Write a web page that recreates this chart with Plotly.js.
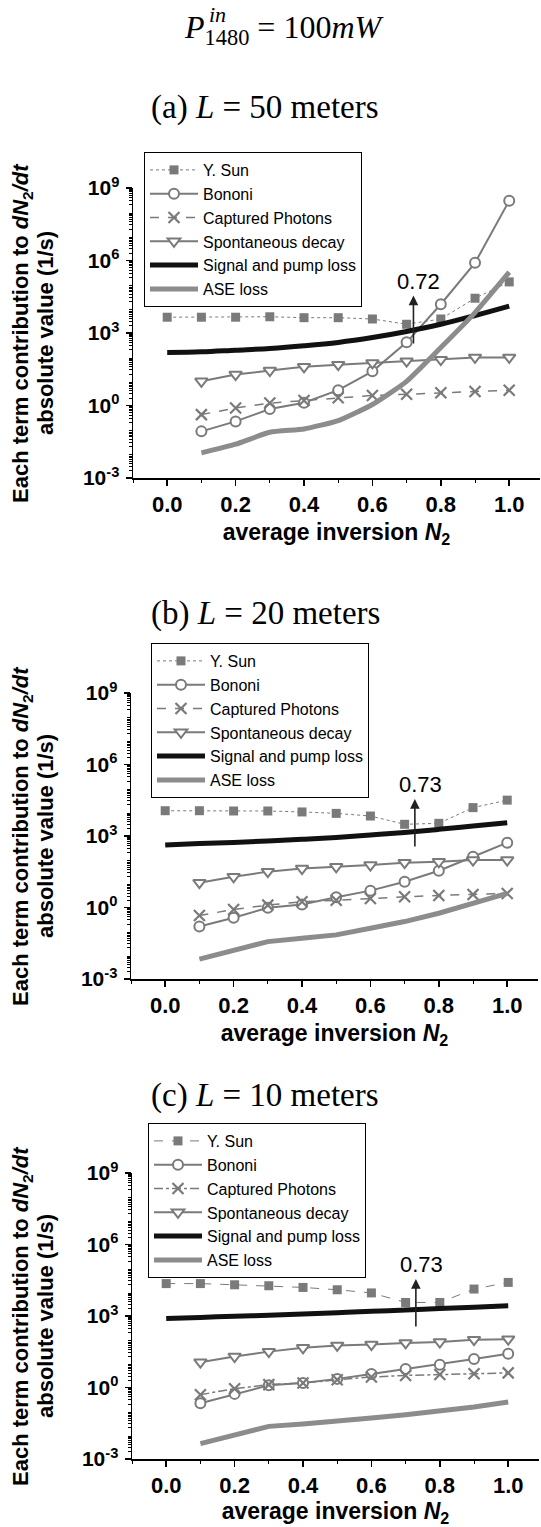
<!DOCTYPE html>
<html>
<head>
<meta charset="utf-8">
<script src="https://cdn.plot.ly/plotly-3.0.1.min.js"></script>
<style>
html,body{margin:0;padding:0;background:#fff;}
#chart{width:541px;height:1527px;}
</style>
</head>
<body>
<div id="chart"></div>
<script>
// ---------------- DATA ----------------
const n2All = [0.0, 0.1, 0.2, 0.3, 0.4, 0.5, 0.6, 0.7, 0.8, 0.9, 1.0];
const n2From01 = [0.1, 0.2, 0.3, 0.4, 0.5, 0.6, 0.7, 0.8, 0.9, 1.0];

const seriesNames = ["Y. Sun", "Bononi", "Captured Photons", "Spontaneous decay", "Signal and pump loss", "ASE loss"];
const panelTitles = ["(a) <i>L</i> = 50 meters", "(b) <i>L</i> = 20 meters", "(c) <i>L</i> = 10 meters"];
const crossN2 = [0.72, 0.73, 0.73];

// (a) L = 50 m
const sunA      = [4500, 4500, 4500, 4700, 4300, 4300, 3800, 2300, 3800, 27500, 130000];
const bononiA   = [0.085, 0.22, 0.72, 1.3, 4.3, 26, 410, 15500, 800000, 3.0e8];
const capturedA = [0.42, 0.79, 1.26, 1.6, 2.1, 2.6, 2.9, 3.4, 3.8, 4.3];
const spontA    = [10, 19, 28, 40, 49, 58, 68, 79, 98, 98];
const signalA   = [155, 166, 195, 229, 295, 407, 646, 1150, 2290, 5300, 13000];
const aseA      = [0.011, 0.025, 0.078, 0.107, 0.237, 1.1, 10, 250, 7000, 330000];

// (b) L = 20 m
const sunB      = [11500, 11500, 11200, 11200, 10200, 8900, 6900, 3100, 3400, 15500, 32000];
const bononiB   = [0.16, 0.37, 0.98, 1.35, 2.7, 5.1, 12, 35, 135, 525];
const capturedB = [0.46, 0.83, 1.26, 1.74, 2.0, 2.4, 2.8, 3.2, 3.5, 3.9];
const spontB    = [11, 19.5, 32, 43, 51, 60, 76, 83, 98, 98];
const signalB   = [417, 479, 537, 617, 724, 871, 1100, 1410, 1900, 2630, 3630];
const aseB      = [0.0068, 0.0166, 0.037, 0.051, 0.071, 0.135, 0.257, 0.575, 1.48, 3.9];

// (c) L = 10 m
const sunC      = [22900, 22900, 20400, 18600, 15800, 12600, 9300, 3700, 3700, 13500, 25700];
const bononiC   = [0.22, 0.54, 1.23, 1.55, 2.3, 3.7, 6.0, 9.1, 15.8, 26];
const capturedC = [0.5, 0.89, 1.32, 1.55, 2.1, 2.75, 3.2, 3.5, 3.8, 4.1];
const spontC    = [11.5, 20, 32, 46, 58, 63, 74, 81, 102, 107];
const signalC   = [776, 871, 977, 1070, 1200, 1380, 1580, 1780, 2040, 2340, 2690];
const aseC      = [0.0044, 0.0105, 0.0234, 0.0295, 0.038, 0.052, 0.072, 0.1, 0.151, 0.245];

const yTickVals = [1e-3, 1, 1e3, 1e6, 1e9];
const yTickText = ["10<sup>-3</sup>", "10<sup>0</sup>", "10<sup>3</sup>", "10<sup>6</sup>", "10<sup>9</sup>"];
const xTickVals = [0.0, 0.2, 0.4, 0.6, 0.8, 1.0];
const xTickText = ["0.0", "0.2", "0.4", "0.6", "0.8", "1.0"];

// ---------------- STYLE / LAYOUT ----------------
const GRAY = "#7a7a7a";
const SANS = "Liberation Sans, Arial, sans-serif";
const SERIF = "Liberation Serif, Times New Roman, serif";
const H = 1527, W = 541;

const panels = [
  {sun: sunA, bon: bononiA, cap: capturedA, spo: spontA, sig: signalA, ase: aseA,
   xDom: [133, 540], yDom: [188, 478], capDash: "dash", sunDash: "dot", aseShape: "spline",
   legend: {left: 144, top: 152}, title: 107},
  {sun: sunB, bon: bononiB, cap: capturedB, spo: spontB, sig: signalB, ase: aseB,
   xDom: [131, 538], yDom: [693, 979], capDash: "dash", sunDash: "dot", aseShape: "linear",
   legend: {left: 151, top: 643}, title: 613},
  {sun: sunC, bon: bononiC, cap: capturedC, spo: spontC, sig: signalC, ase: aseC,
   xDom: [132, 539], yDom: [1173, 1459], capDash: "dashdot", sunDash: "dash", aseShape: "linear",
   legend: {left: 148, top: 1123}, title: 1095}
];

// minor log ticks
const minorY = [];
for (let e = -3; e < 9; e++) for (let m = 2; m <= 9; m++) minorY.push(m * Math.pow(10, e));

const traces = [];
const layout = {
  width: W, height: H, autosize: false,
  margin: {l: 0, r: 0, t: 0, b: 0},
  paper_bgcolor: "#fff", plot_bgcolor: "rgba(0,0,0,0)",
  font: {family: SANS, color: "#000"},
  annotations: [], shapes: []
};

panels.forEach((p, i) => {
  const k = i === 0 ? "" : String(i + 1);
  const xa = "x" + k, ya = "y" + k, lg = "legend" + k;
  const base = {xaxis: xa, yaxis: ya, legend: lg, mode: "lines+markers", hoverinfo: "x+y+name"};
  traces.push(Object.assign({}, base, {
    name: seriesNames[0], x: n2All, y: p.sun,
    line: {color: GRAY, width: 1, dash: p.sunDash},
    marker: {symbol: "square", size: 9, color: GRAY}
  }));
  traces.push(Object.assign({}, base, {
    name: seriesNames[1], x: n2From01, y: p.bon,
    line: {color: GRAY, width: 2},
    marker: {symbol: "circle", size: 10, color: "#fff", line: {color: GRAY, width: 2}}
  }));
  traces.push(Object.assign({}, base, {
    name: seriesNames[2], x: n2From01, y: p.cap,
    line: {color: GRAY, width: 1.5, dash: p.capDash},
    marker: {symbol: "x-thin-open", size: 11, color: GRAY, line: {color: GRAY, width: 2.2}}
  }));
  traces.push(Object.assign({}, base, {
    name: seriesNames[3], x: n2From01, y: p.spo,
    line: {color: GRAY, width: 2},
    marker: {symbol: "triangle-down", size: 11, color: "#fff", line: {color: GRAY, width: 2}}
  }));
  traces.push(Object.assign({}, base, {
    name: seriesNames[4], x: n2All, y: p.sig, mode: "lines",
    line: {color: "#111", width: 5, shape: "spline"}
  }));
  traces.push(Object.assign({}, base, {
    name: seriesNames[5], x: n2From01, y: p.ase, mode: "lines",
    line: {color: "#8c8c8c", width: 5, shape: p.aseShape, smoothing: 0.5}
  }));

  layout["xaxis" + k] = {
    domain: [p.xDom[0] / W, p.xDom[1] / W], anchor: ya,
    range: [-0.1, 1.09], showgrid: false, zeroline: false,
    showline: true, linecolor: "#000", linewidth: 1.5,
    ticks: "outside", ticklen: 6, tickwidth: 1.5, tickcolor: "#000",
    tickvals: xTickVals, ticktext: xTickText,
    minor: {dtick: 0.1, tick0: 0, ticks: "outside", ticklen: 3, tickwidth: 1, tickcolor: "#000"},
    tickfont: {family: SANS, size: 22, weight: 700, color: "#000"},
    title: {text: "average inversion <i>N</i><sub>2</sub>", font: {family: SANS, size: 23, weight: 700, color: "#000"}, standoff: 8},
    fixedrange: true
  };
  layout["yaxis" + k] = {
    domain: [(H - p.yDom[1]) / H, (H - p.yDom[0]) / H], anchor: xa,
    type: "log", range: [-3, 9], showgrid: false, zeroline: false,
    showline: true, linecolor: "#000", linewidth: 1.5,
    ticks: "outside", ticklen: 6, tickwidth: 1.5, tickcolor: "#000",
    tickvals: yTickVals, ticktext: yTickText,
    minor: {tickvals: minorY, ticks: "outside", ticklen: 3, tickwidth: 1, tickcolor: "#000"},
    tickfont: {family: SANS, size: 21, weight: 700, color: "#000"},
    ticklabelstandoff: 2,
    fixedrange: true
  };
  layout[lg] = {
    x: p.legend.left / W, y: (H - p.legend.top) / H, xanchor: "left", yanchor: "top",
    xref: "paper", yref: "paper",
    bgcolor: "#fff", bordercolor: "#000", borderwidth: 1,
    font: {family: SANS, size: 16, color: "#000"},
    itemwidth: 48, tracegroupgap: 0
  };

  // panel title
  layout.annotations.push({
    xref: "paper", yref: "paper", x: 265 / W, y: (H - p.title) / H,
    xanchor: "center", yanchor: "middle", showarrow: false,
    text: panelTitles[i], font: {family: SERIF, size: 33, color: "#000"}
  });
  // y-axis title lines
  const yc = (H - (p.yDom[0] + p.yDom[1]) / 2) / H;
  layout.annotations.push({
    xref: "paper", yref: "paper", x: 22 / W, y: yc, xanchor: "center", yanchor: "middle",
    textangle: -90, showarrow: false,
    text: "Each term contribution to <i>dN</i><sub>2</sub><i>/dt</i>",
    font: {family: SANS, size: 22, weight: 700, color: "#000"}
  });
  layout.annotations.push({
    xref: "paper", yref: "paper", x: 45 / W, y: yc, xanchor: "center", yanchor: "middle",
    textangle: -90, showarrow: false,
    text: "absolute value (1/s)",
    font: {family: SANS, size: 22, weight: 700, color: "#000"}
  });
  // crossing arrow (annotation in log coords of the y axis)
  layout.annotations.push({
    xref: xa, yref: ya, axref: xa, ayref: ya,
    x: crossN2[i], y: 4.55, ax: crossN2[i], ay: 2.5,
    text: "", showarrow: true, arrowhead: 2, arrowsize: 1.2, arrowwidth: 1.6, arrowcolor: "#222"
  });
  layout.annotations.push({
    xref: xa, yref: ya, x: crossN2[i] + 0.015, y: 5.15, xanchor: "center", yanchor: "middle",
    showarrow: false, text: crossN2[i].toFixed(2),
    font: {family: SANS, size: 22, color: "#000"}
  });
});

// main title
layout.annotations.push({
  xref: "paper", yref: "paper", x: 284 / W, y: (H - 30) / H, xanchor: "center", yanchor: "middle",
  showarrow: false, text: "<i>P</i><sub>1480</sub> = 100<i>mW</i>",
  font: {family: SERIF, size: 32, color: "#000"}
});
layout.annotations.push({
  xref: "paper", yref: "paper", x: 217 / W, y: (H - 15) / H, xanchor: "center", yanchor: "middle",
  showarrow: false, text: "<i>in</i>",
  font: {family: SERIF, size: 22, color: "#000"}
});

Plotly.newPlot("chart", traces, layout, {staticPlot: true, displayModeBar: false});
</script>
</body>
</html>
